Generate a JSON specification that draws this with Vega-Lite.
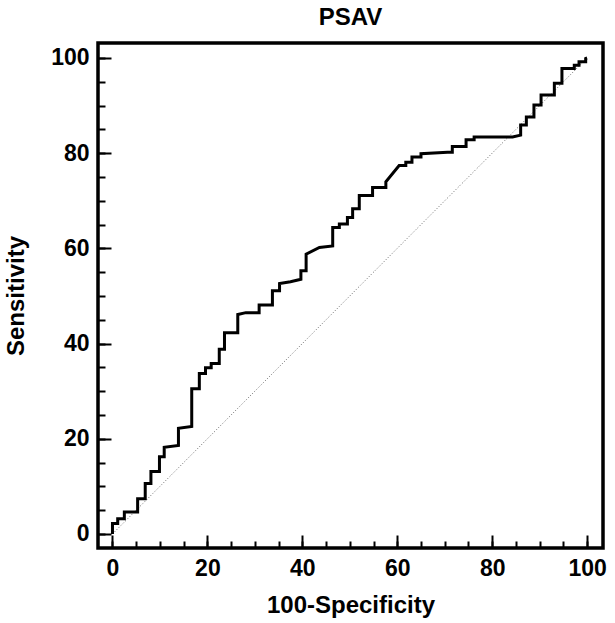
{
  "$schema": "https://vega.github.io/schema/vega-lite/v6.json",
  "width": 505,
  "height": 505,
  "autosize": {"type": "none"},
  "padding": {"left": 98, "top": 43, "right": 12, "bottom": 75},
  "background": "white",
  "title": {"text": "PSAV", "fontSize": 24, "fontWeight": "bold", "font": "Liberation Sans", "color": "black", "offset": 13, "anchor": "middle"},
  "config": {
    "view": {"stroke": "black", "strokeWidth": 3.5},
    "font": "Liberation Sans",
    "axis": {"grid": false, "domain": false, "ticks": true, "tickColor": "black", "labelColor": "black", "titleColor": "black", "labelFlush": false, "labelOverlap": false}
  },
  "datasets": {
    "diag": [{"x": 0, "y": 0}, {"x": 100, "y": 100}],
    "roc": [
        {"i":0,"x":0,"y":0},{"i":1,"x":0,"y":2.2},{"i":2,"x":1.1,"y":2.2},{"i":3,"x":1.1,"y":3.2},
        {"i":4,"x":2.5,"y":3.2},{"i":5,"x":2.5,"y":4.6},{"i":6,"x":5.3,"y":4.6},{"i":7,"x":5.3,"y":7.4},
        {"i":8,"x":6.9,"y":7.4},{"i":9,"x":6.9,"y":10.6},{"i":10,"x":8.1,"y":10.6},{"i":11,"x":8.1,"y":13.1},
        {"i":12,"x":9.9,"y":13.1},{"i":13,"x":9.9,"y":16.2},{"i":14,"x":10.9,"y":16.2},{"i":15,"x":10.9,"y":18.2},
        {"i":16,"x":13.9,"y":18.6},{"i":17,"x":13.9,"y":22.2},{"i":18,"x":16.7,"y":22.6},{"i":19,"x":16.7,"y":30.5},
        {"i":20,"x":18.3,"y":30.5},{"i":21,"x":18.3,"y":33.7},{"i":22,"x":19.6,"y":33.7},{"i":23,"x":19.6,"y":34.9},
        {"i":24,"x":20.8,"y":34.9},{"i":25,"x":20.8,"y":35.8},{"i":26,"x":22.5,"y":35.8},{"i":27,"x":22.5,"y":38.8},
        {"i":28,"x":23.6,"y":38.8},{"i":29,"x":23.6,"y":42.3},{"i":30,"x":26.4,"y":42.3},{"i":31,"x":26.4,"y":46.1},
        {"i":32,"x":28.1,"y":46.5},{"i":33,"x":30.9,"y":46.5},{"i":34,"x":30.9,"y":48.1},{"i":35,"x":33.7,"y":48.1},
        {"i":36,"x":33.7,"y":51.1},{"i":37,"x":35.2,"y":51.1},{"i":38,"x":35.2,"y":52.6},{"i":39,"x":37.5,"y":53.0},
        {"i":40,"x":39.7,"y":53.5},{"i":41,"x":39.7,"y":55.3},{"i":42,"x":40.8,"y":55.3},{"i":43,"x":40.8,"y":58.8},
        {"i":44,"x":43.6,"y":60.2},{"i":45,"x":46.4,"y":60.5},{"i":46,"x":46.4,"y":64.4},{"i":47,"x":47.8,"y":64.4},
        {"i":48,"x":47.8,"y":65.1},{"i":49,"x":49.5,"y":65.1},{"i":50,"x":49.5,"y":66.5},{"i":51,"x":50.6,"y":66.5},
        {"i":52,"x":50.6,"y":68.3},{"i":53,"x":52.0,"y":68.3},{"i":54,"x":52.0,"y":71.1},{"i":55,"x":54.8,"y":71.1},
        {"i":56,"x":54.8,"y":72.8},{"i":57,"x":57.6,"y":72.8},{"i":58,"x":57.6,"y":74.0},{"i":59,"x":60.4,"y":77.4},
        {"i":60,"x":61.8,"y":77.4},{"i":61,"x":61.8,"y":78.1},{"i":62,"x":63.1,"y":78.1},{"i":63,"x":63.1,"y":79.2},
        {"i":64,"x":65.0,"y":79.2},{"i":65,"x":65.0,"y":79.9},{"i":66,"x":70.6,"y":80.2},{"i":67,"x":71.6,"y":80.2},
        {"i":68,"x":71.6,"y":81.4},{"i":69,"x":74.5,"y":81.4},{"i":70,"x":74.5,"y":82.8},{"i":71,"x":76.2,"y":82.8},
        {"i":72,"x":76.2,"y":83.4},{"i":73,"x":84.3,"y":83.4},{"i":74,"x":86.0,"y":83.8},{"i":75,"x":86.0,"y":85.9},
        {"i":76,"x":87.2,"y":85.9},{"i":77,"x":87.2,"y":87.6},{"i":78,"x":88.8,"y":87.6},{"i":79,"x":88.8,"y":90.1},
        {"i":80,"x":90.3,"y":90.1},{"i":81,"x":90.3,"y":92.2},{"i":82,"x":93.1,"y":92.2},{"i":83,"x":93.1,"y":94.7},
        {"i":84,"x":94.7,"y":94.7},{"i":85,"x":94.7,"y":97.8},{"i":86,"x":97.3,"y":97.8},{"i":87,"x":97.3,"y":98.5},
        {"i":88,"x":98.3,"y":98.5},{"i":89,"x":98.3,"y":99.2},{"i":90,"x":99.7,"y":99.2},{"i":91,"x":99.7,"y":99.9},
        {"i":92,"x":100,"y":100}
    ]
  },
  "layer": [
    {
      "data": {"name": "diag"},
      "mark": {"type": "line", "color": "#666666", "strokeWidth": 1, "strokeDash": [1, 2]},
      "encoding": {
        "x": {"field": "x", "type": "quantitative", "scale": {"domain": [-3.05, 103.35], "nice": false, "zero": false},
              "axis": {"orient": "bottom", "offset": -7, "values": [0,5,10,15,20,25,30,35,40,45,50,55,60,65,70,75,80,85,90,95,100], "tickSize": 7, "tickWidth": 2, "labels": false, "title": null}},
        "y": {"field": "y", "type": "quantitative", "scale": {"domain": [-2.95, 103.15], "nice": false, "zero": false},
              "axis": {"orient": "left", "offset": -7, "values": [0,5,10,15,20,25,30,35,40,45,50,55,60,65,70,75,80,85,90,95,100], "tickSize": 7, "tickWidth": 2, "labels": false, "title": null}}
      }
    },
    {
      "data": {"name": "roc"},
      "mark": {"type": "line", "color": "black", "strokeWidth": 3, "strokeJoin": "miter"},
      "encoding": {
        "x": {"field": "x", "type": "quantitative", "scale": {"domain": [-3.05, 103.35], "nice": false, "zero": false},
              "axis": {"orient": "bottom", "offset": -13, "values": [0,20,40,60,80,100], "tickSize": 13, "tickWidth": 2, "labelFontSize": 23, "labelFontWeight": "bold", "labelPadding": 9, "title": "100-Specificity", "titleFontSize": 24, "titleFontWeight": "bold", "titlePadding": 13}},
        "y": {"field": "y", "type": "quantitative", "scale": {"domain": [-2.95, 103.15], "nice": false, "zero": false},
              "axis": {"orient": "left", "offset": -13, "values": [0,20,40,60,80,100], "tickSize": 13, "tickWidth": 2, "labelFontSize": 23, "labelFontWeight": "bold", "labelPadding": 9, "title": "Sensitivity", "titleFontSize": 24, "titleFontWeight": "bold", "titlePadding": 22}},
        "order": {"field": "i", "type": "quantitative"}
      }
    }
  ],
  "resolve": {"axis": {"x": "independent", "y": "independent"}}
}
